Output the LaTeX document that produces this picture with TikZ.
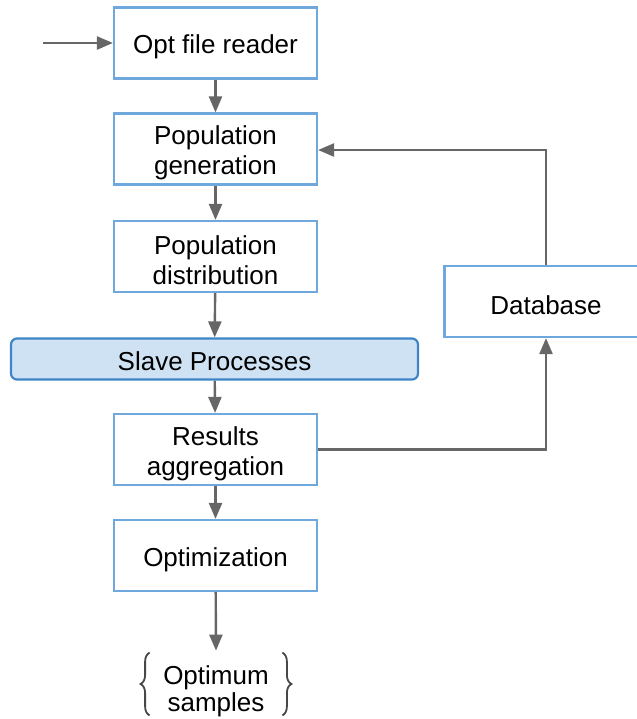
\documentclass[tikz,border=0pt]{standalone}
\usepackage{fontspec}
\setmainfont{Liberation Sans}
\usetikzlibrary{arrows.meta,decorations.pathreplacing}

\definecolor{boxline}{HTML}{6FA8DC}
\definecolor{slaveline}{HTML}{3D85C6}
\definecolor{slavefill}{HTML}{CFE2F3}
\definecolor{arrowgray}{HTML}{666666}

\begin{document}
\begin{tikzpicture}[x=0.5pt,y=-0.5pt,
    tag/.style={inner sep=0pt,align=center,font=\fontsize{13}{15}\selectfont},
    box/.style={draw=boxline,line width=1.1pt,minimum width=101.5pt,minimum height=35.5pt,
        inner sep=0pt,label={[tag,yshift=-2pt]center:#1}},
    slavebox/.style={draw=slaveline,fill=slavefill,line width=1.1pt,rounded corners=3pt,
        minimum width=203.5pt,minimum height=20.5pt,inner sep=0pt,
        label={[tag,yshift=-1pt]center:#1}},
    flow/.style={draw=arrowgray,line width=1.2pt,-{Triangle[length=8pt,width=6.5pt]}},
    curly/.style={draw=arrowgray!70!black,line width=0.9pt,decorate,
        decoration={brace,amplitude=4.5pt}}]
    \clip (0,0) rectangle (637,719);

    % main column
    \node (reader) at (215.5,43) [box={Opt file reader}] {};
    \node (gen) at (215.5,149) [box={Population\\generation}] {};
    \node (dist) at (215.5,256.5) [box={Population\\distribution}] {};
    \node (slaves) at (214.5,359) [slavebox={Slave Processes}] {};
    \node (results) at (215.5,449.5) [box={Results\\aggregation}] {};
    \node (optim) at (215.5,555.5) [box={Optimization}] {};
    \node (samples) at (216,684) [inner sep=0pt,minimum width=66pt,minimum height=31pt,
        label={[tag,font=\fontsize{13}{13.5}\selectfont,yshift=-3.5pt]center:Optimum\\samples}] {};

    % side store
    \node (db) at (546,301.5) [box={Database}] {};

    \coordinate (start) at (43,43);
    \coordinate (bend) at (546,150);

    \draw[flow] (start) -- (reader);
    \draw[flow] (reader) -- (gen);
    \draw[flow] (gen) -- (dist);
    \draw[flow] (dist) -- (slaves);
    \draw[flow] (slaves) -- (results);
    \draw[flow] (results) -- (optim);
    \draw[flow] (optim) -- ([yshift=1pt]samples.north);
    \draw[flow] (results.east) -| (db.south);
    \draw[flow] (db.north) -- (bend) -- (gen.east |- bend);

    % braces round the output
    \draw[curly] (samples.south west) -- (samples.north west);
    \draw[curly] (samples.north east) -- (samples.south east);
\end{tikzpicture}
\end{document}
